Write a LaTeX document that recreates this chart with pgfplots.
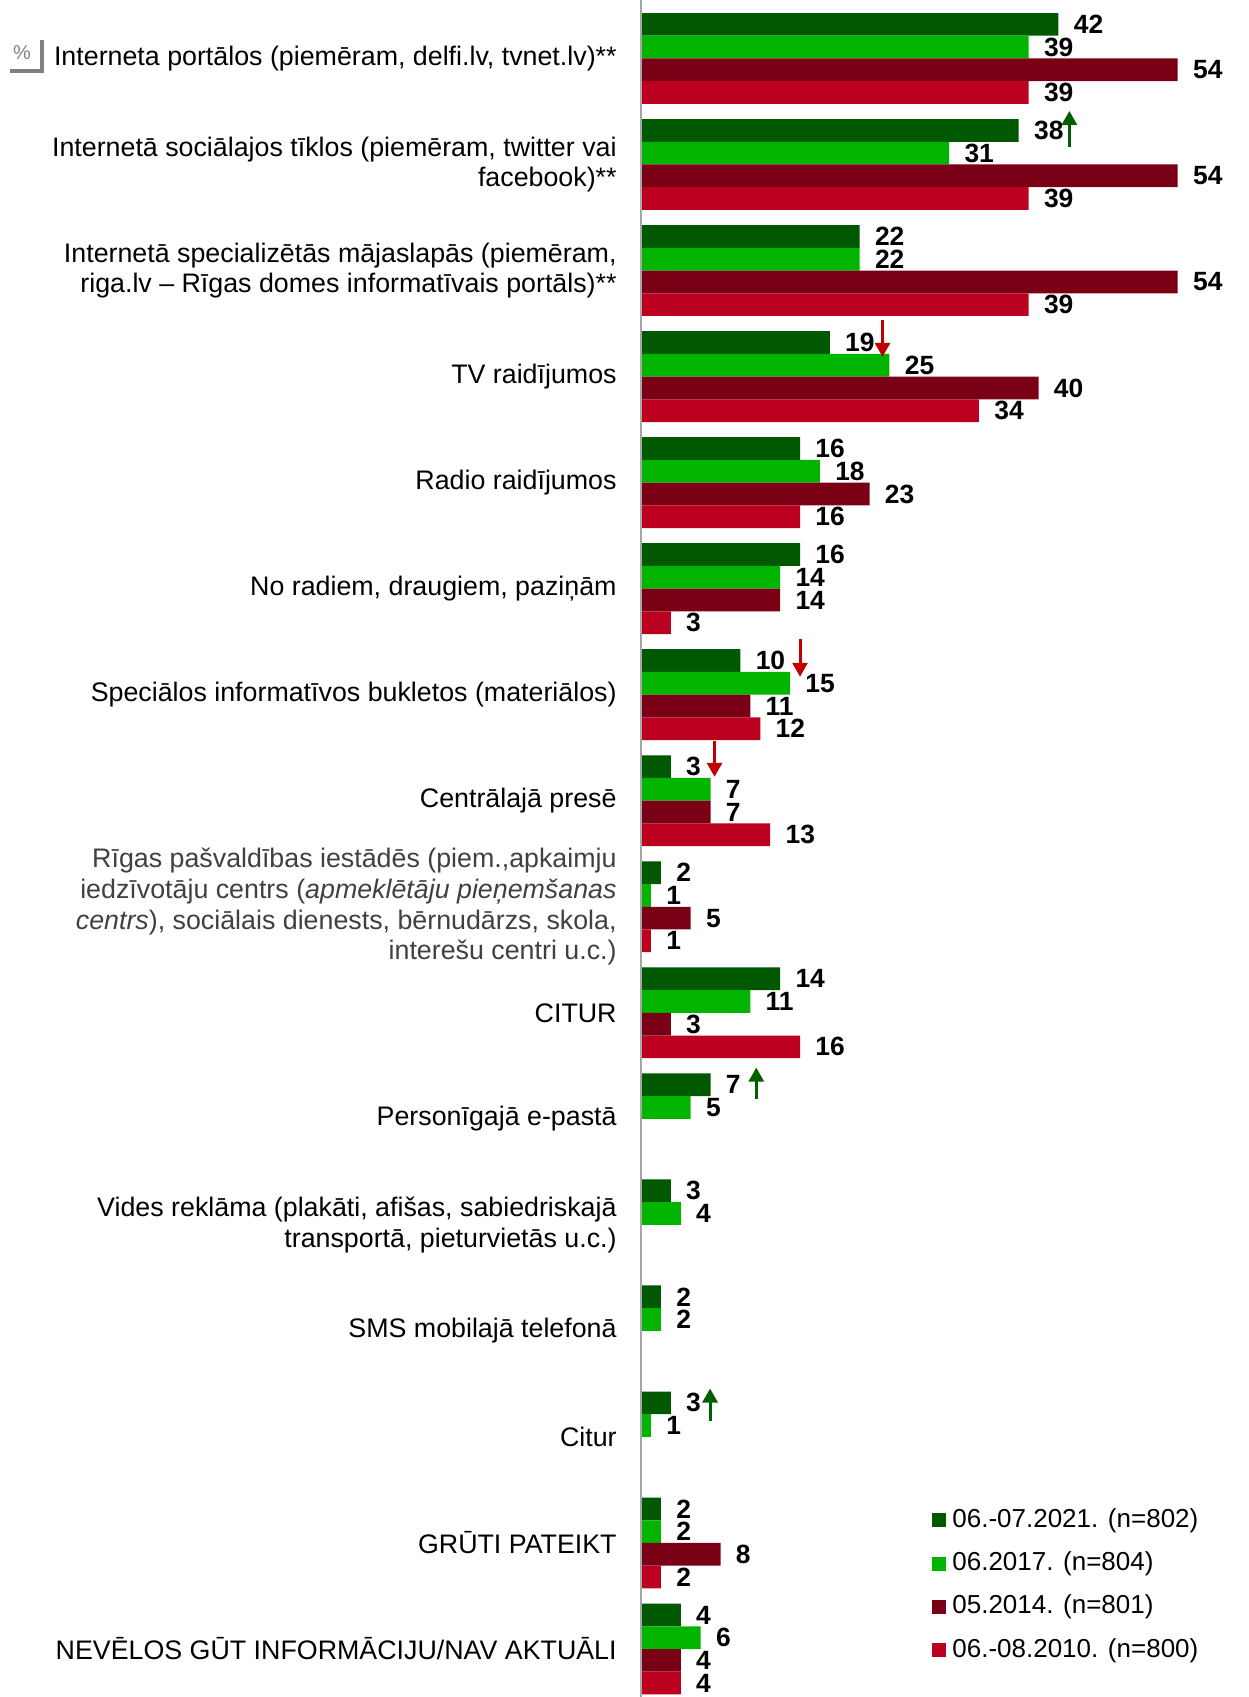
\documentclass[border=0pt]{standalone}
\usepackage{fontspec}
\setmainfont{Liberation Sans}
\usepackage{pgfplots}
\pgfplotsset{compat=1.18}
\usetikzlibrary{arrows.meta}

\definecolor{cA}{HTML}{005800}
\definecolor{cB}{HTML}{00B400}
\definecolor{cC}{HTML}{7A0015}
\definecolor{cD}{HTML}{BB0020}
\definecolor{arrG}{HTML}{006000}
\definecolor{arrR}{HTML}{C00000}
\definecolor{lblgray}{HTML}{404040}

\newcommand{\fs}{\fontsize{13.4pt}{15.4pt}\selectfont}
\newcommand{\fn}{\fontsize{13.2pt}{15pt}\selectfont}
\newcommand{\fl}{\fontsize{13pt}{15pt}\selectfont}
\newcommand{\gr}[1]{\textcolor{lblgray}{#1}}

\begin{document}
\begin{tikzpicture}
\begin{axis}[
  at={(0,0)}, anchor=south west,
  xbar, scale only axis,
  width=303.5pt, height=848.5pt,
  xmin=0, xmax=61.07, ymin=-0.4525, ymax=15.5515,
  bar width=11.36pt,
  axis line style={draw=none},
  xtick=\empty,
  ytick={15,14,...,0},
  yticklabels={
    {Interneta portālos (piemēram, delfi.lv, tvnet.lv)**},
    {Internetā sociālajos tīklos (piemēram, twitter vai\\facebook)**},
    {Internetā specializētās mājaslapās (piemēram,\\riga.lv – Rīgas domes informatīvais portāls)**},
    {TV raidījumos},
    {Radio raidījumos},
    {No radiem, draugiem, paziņām},
    {Speciālos informatīvos bukletos (materiālos)},
    {Centrālajā presē},
    {\gr{Rīgas pašvaldības iestādēs (piem.,apkaimju}\\\gr{iedzīvotāju centrs (\textit{apmeklētāju pieņemšanas}}\\\gr{\textit{centrs}), sociālais dienests, bērnudārzs, skola,}\\\gr{interešu centri u.c.)}},
    {CITUR},
    {Personīgajā e-pastā},
    {Vides reklāma (plakāti, afišas, sabiedriskajā\\transportā, pieturvietās u.c.)},
    {SMS mobilajā telefonā},
    {Citur},
    {GRŪTI PATEIKT},
    {NEVĒLOS GŪT INFORMĀCIJU/NAV AKTUĀLI}},
  major tick length=0pt,
  yticklabel style={align=right, inner sep=0pt, xshift=-12pt, font=\fs},
  nodes near coords,
  every node near coord/.append style={anchor=west, inner sep=0pt, xshift=7.5pt, font=\fn\bfseries, text=black},
  /pgf/number format/assume math mode=true,
  clip=false,
  legend style={draw=none, fill=none, inner sep=0pt, at={(0.4794,0.1114)}, anchor=north west,
    row sep=9.65pt, column sep=3pt, font=\fl,
    nodes={inner sep=0pt, text height=9.4pt, text depth=2.6pt}},
  legend cell align=left,
  legend image code/.code={\fill[#1] (0pt,-3.5pt) rectangle (7pt,3.5pt);},
]
% 06.-07.2021
\addplot[fill=cA, draw=none, bar shift=17.04pt] coordinates {
(42,15) (38,14) (22,13) (19,12) (16,11) (16,10) (10,9) (3,8)
(2,7) (14,6) (7,5) (3,4) (2,3) (3,2) (2,1) (4,0)};
% 06.2017
\addplot[fill=cB, draw=none, bar shift=5.68pt] coordinates {
(39,15) (31,14) (22,13) (25,12) (18,11) (14,10) (15,9) (7,8)
(1,7) (11,6) (5,5) (4,4) (2,3) (1,2) (2,1) (6,0)};
% 05.2014
\addplot[fill=cC, draw=none, bar shift=-5.68pt] coordinates {
(54,15) (54,14) (54,13) (40,12) (23,11) (14,10) (11,9) (7,8)
(5,7) (3,6) (8,1) (4,0)};
% 06.-08.2010
\addplot[fill=cD, draw=none, bar shift=-17.04pt] coordinates {
(39,15) (39,14) (39,13) (34,12) (16,11) (3,10) (12,9) (13,8)
(1,7) (16,6) (2,1) (4,0)};
\legend{06.-07.2021. (n=802),06.2017. (n=804),05.2014. (n=801),06.-08.2010. (n=800)}

\draw[black!35, line width=0.75pt] (axis cs:0,-0.4525) -- (axis cs:0,15.5515);
% change markers
\draw[arrG, line width=1.5pt, -{Triangle[width=7.5pt,length=7pt]}] (axis cs:43.1,14.166) -- (axis cs:43.1,14.505);
\draw[arrR, line width=1.5pt, -{Triangle[width=7.5pt,length=7pt]}] (axis cs:24.3,12.534) -- (axis cs:24.3,12.186);
\draw[arrR, line width=1.5pt, -{Triangle[width=7.5pt,length=7pt]}] (axis cs:16.0,9.527) -- (axis cs:16.0,9.169);
\draw[arrR, line width=1.5pt, -{Triangle[width=7.5pt,length=7pt]}] (axis cs:7.4,8.565) -- (axis cs:7.4,8.226);
\draw[arrG, line width=1.5pt, -{Triangle[width=7.5pt,length=7pt]}] (axis cs:11.6,5.19) -- (axis cs:11.6,5.483);
\draw[arrG, line width=1.5pt, -{Triangle[width=7.5pt,length=7pt]}] (axis cs:6.95,2.154) -- (axis cs:6.95,2.456);
\end{axis}
% percent box
\draw[black!50, line width=2pt] (-315.5pt,813pt) -- (-299.4pt,813pt) -- (-299.4pt,828.5pt);
\node[black!50, font=\fontsize{10pt}{11pt}\selectfont, inner sep=0pt] at (-309.5pt,822.3pt) {\%};
\pgfresetboundingbox
\path (-320.5pt,0pt) rectangle (303.5pt,848.5pt);
\end{tikzpicture}
\end{document}
